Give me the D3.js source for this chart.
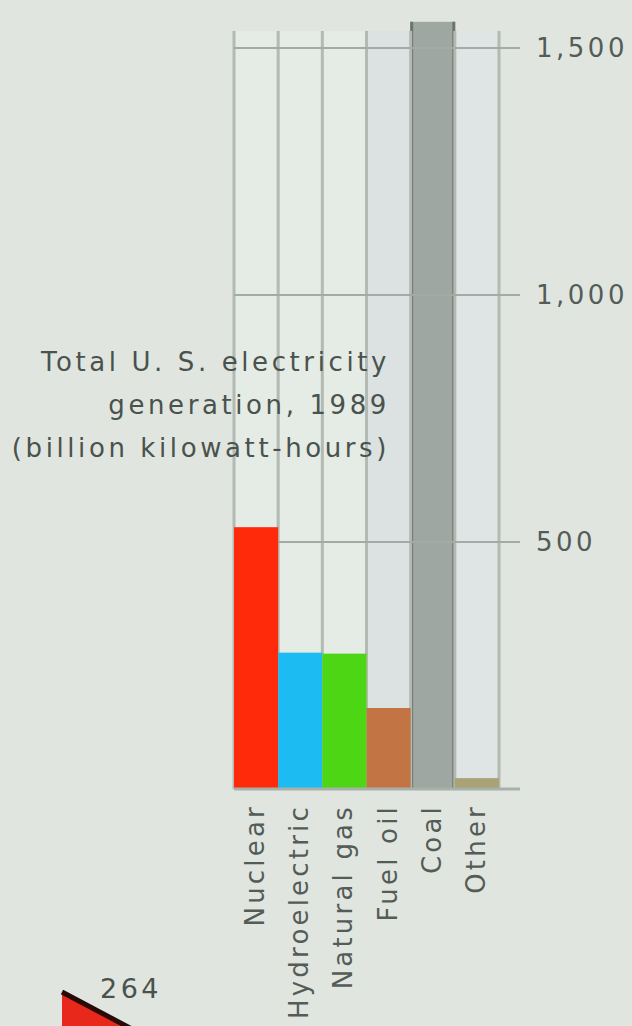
<!DOCTYPE html>
<html>
<head>
<meta charset="utf-8">
<script src="https://cdn.jsdelivr.net/npm/d3@7"></script>
<style>
  html, body { margin: 0; padding: 0; background: #e0e6df; }
  svg { display: block; }
  text { font-family: "DejaVu Sans", sans-serif; }
</style>
</head>
<body>
<svg id="chart"></svg>
<script>
const width = 632;
const height = 1026;

// Data
const categories = ["Nuclear", "Hydroelectric", "Natural gas", "Fuel oil", "Coal", "Other"];
const generation = [530, 276, 274, 164, 1553, 22];
const barColors = ["#ff2a0a", "#1cbcf2", "#4cd614", "#c27444", "#9fa7a3", "#a8a274"];
const tickValues = [500, 1000, 1500];
const titleLines = ["Total U. S. electricity", "generation, 1989", "(billion kilowatt-hours)"];
const cutoffLabels = ["264"];

const data = categories.map((c, i) => ({ category: c, value: generation[i], color: barColors[i] }));

const svg = d3.select("#chart").attr("width", width).attr("height", height);

const x = d3.scaleBand()
    .domain(categories)
    .range([234, 499])
    .padding(0);

const y = d3.scaleLinear()
    .domain([0, 1500])
    .range([789, 48]);

const colTop = y(1500) - 17;

// Column backgrounds
svg.append("g")
    .selectAll("rect")
    .data(categories)
    .join("rect")
    .attr("x", d => x(d))
    .attr("y", colTop)
    .attr("width", x.bandwidth())
    .attr("height", y(0) - colTop)
    .attr("fill", d => d === "Fuel oil" ? "#dce2e1" : (d === "Other" ? "#dfe5e4" : "#e5ebe5"));

// Coal bar sits under the grid lines
const coalLayer = svg.append("g");
const gridLayer = svg.append("g");
const barLayer = svg.append("g");

coalLayer.selectAll("rect")
    .data(data.filter(d => d.category === "Coal"))
    .join("rect")
    .attr("x", d => x(d.category))
    .attr("y", d => y(d.value))
    .attr("width", x.bandwidth())
    .attr("height", d => y(0) - y(d.value))
    .attr("fill", d => d.color);

// Column dividers
const dividers = categories.map(d => x(d)).concat([x.range()[1]]);
gridLayer.selectAll(".divider")
    .data(dividers)
    .join("line")
    .attr("class", "divider")
    .attr("x1", d => d)
    .attr("x2", d => d)
    .attr("y1", colTop)
    .attr("y2", y(0))
    .attr("stroke", "#b2bab3")
    .attr("stroke-width", 3);

// Dark sides of the coal bar
coalLayer.selectAll("line")
    .data(data.filter(d => d.category === "Coal").flatMap(d => [x(d.category) + 1, x(d.category) + x.bandwidth() - 1].map(px => ({ px, d }))))
    .join("line")
    .attr("x1", e => e.px)
    .attr("x2", e => e.px)
    .attr("y1", e => y(e.d.value))
    .attr("y2", y(0))
    .attr("stroke", "#6c7470")
    .attr("stroke-width", 3);

// Horizontal grid lines
gridLayer.selectAll(".grid")
    .data(tickValues)
    .join("line")
    .attr("class", "grid")
    .attr("x1", x.range()[0])
    .attr("x2", 520)
    .attr("y1", d => y(d))
    .attr("y2", d => y(d))
    .attr("stroke", "#a3aba5")
    .attr("stroke-width", 2);

// Other bars
barLayer.selectAll("rect")
    .data(data.filter(d => d.category !== "Coal"))
    .join("rect")
    .attr("x", d => x(d.category))
    .attr("y", d => y(d.value))
    .attr("width", x.bandwidth())
    .attr("height", d => y(0) - y(d.value))
    .attr("fill", d => d.color);

// Base line
svg.append("line")
    .attr("x1", x.range()[0])
    .attr("x2", 520)
    .attr("y1", y(0))
    .attr("y2", y(0))
    .attr("stroke", "#a8b0aa")
    .attr("stroke-width", 3);

// Tick labels
svg.append("g")
    .selectAll("text")
    .data(tickValues)
    .join("text")
    .attr("x", 536)
    .attr("y", d => y(d))
    .attr("dy", "0.36em")
    .attr("fill", "#545c57")
    .attr("font-size", 26)
    .attr("letter-spacing", 3.5)
    .text(d => d3.format(",")(d));

// Category labels, rotated
svg.append("g")
    .selectAll("text")
    .data(categories)
    .join("text")
    .attr("transform", d => `translate(${x(d) + x.bandwidth() / 2 + 8}, 804) rotate(-90)`)
    .attr("text-anchor", "end")
    .attr("fill", "#545c57")
    .attr("font-size", 26)
    .attr("letter-spacing", 3.2)
    .text(d => d);

// Title
svg.append("g")
    .selectAll("text")
    .data(titleLines)
    .join("text")
    .attr("x", 390)
    .attr("y", (d, i) => 371 + i * 43)
    .attr("text-anchor", "end")
    .attr("fill", "#4a524d")
    .attr("font-size", 26)
    .attr("letter-spacing", 3.6)
    .text(d => d);

// Piece of the next graphic, cut off at the bottom
const wedgeAngle = Math.PI * 0.655;
const wedge = d3.arc()
    .innerRadius(0)
    .outerRadius(90)
    .startAngle(wedgeAngle)
    .endAngle(Math.PI);

const wedgeG = svg.append("g").attr("transform", "translate(62, 992)");
wedgeG.append("path")
    .attr("d", wedge())
    .attr("fill", "#e8281a");
wedgeG.append("line")
    .attr("x1", 0)
    .attr("y1", 0)
    .attr("x2", d3.pointRadial(wedgeAngle, 90)[0])
    .attr("y2", d3.pointRadial(wedgeAngle, 90)[1])
    .attr("stroke", "#2a0a06")
    .attr("stroke-width", 5);

svg.append("g")
    .selectAll("text")
    .data(cutoffLabels)
    .join("text")
    .attr("x", 100)
    .attr("y", 998)
    .attr("fill", "#4a524d")
    .attr("font-size", 27)
    .attr("letter-spacing", 3.5)
    .text(d => d);
</script>
</body>
</html>
